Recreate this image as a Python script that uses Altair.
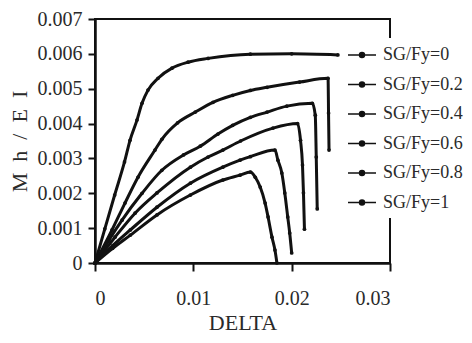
import altair as alt
import pandas as pd

series_names = ["SG/Fy=0", "SG/Fy=0.2", "SG/Fy=0.4", "SG/Fy=0.6", "SG/Fy=0.8", "SG/Fy=1"]

x_0 = [0, 0.001, 0.002, 0.003, 0.00356, 0.00427, 0.00478, 0.00539, 0.00641, 0.00783, 0.00946, 0.0115, 0.0158, 0.02, 0.0247]
y_0 = [0, 0.00098, 0.00195, 0.0029, 0.00352, 0.0041, 0.00458, 0.00496, 0.0053, 0.00559, 0.00576, 0.00587, 0.00599, 0.006, 0.00597]

x_02 = [0, 0.00173, 0.00305, 0.00437, 0.0061, 0.0068, 0.0084, 0.0102, 0.012, 0.014, 0.0158, 0.0175, 0.0208, 0.0237, 0.02375, 0.0238]
y_02 = [0, 0.00095, 0.00172, 0.00246, 0.00324, 0.00355, 0.00402, 0.00433, 0.00461, 0.00481, 0.00495, 0.00504, 0.00519, 0.0053, 0.0043, 0.00324]

x_04 = [0, 0.0014, 0.00275, 0.00478, 0.0068, 0.009, 0.0107, 0.0125, 0.014, 0.0158, 0.0175, 0.0195, 0.0221, 0.0224, 0.0225, 0.0226]
y_04 = [0, 0.00065, 0.00123, 0.002, 0.00266, 0.0031, 0.00335, 0.0037, 0.00395, 0.00418, 0.00433, 0.0045, 0.00458, 0.00424, 0.00304, 0.00155]

x_06 = [0, 0.00203, 0.00407, 0.0063, 0.0097, 0.0115, 0.013, 0.0148, 0.0181, 0.0206, 0.0209, 0.0211, 0.0212, 0.0213]
y_06 = [0, 0.00074, 0.00143, 0.00201, 0.00275, 0.00304, 0.00324, 0.0035, 0.00387, 0.004, 0.00352, 0.00281, 0.00201, 0.00097]

x_08 = [0, 0.0018, 0.0036, 0.0063, 0.0097, 0.013, 0.01475, 0.0158, 0.0183, 0.0186, 0.019, 0.0193, 0.0196, 0.0198, 0.02]
y_08 = [0, 0.0005, 0.00095, 0.0016, 0.00229, 0.00275, 0.00295, 0.00305, 0.00324, 0.00295, 0.00258, 0.00201, 0.00132, 0.00086, 0.00029]

x_1 = [0, 0.0018, 0.0036, 0.0063, 0.0097, 0.013, 0.01475, 0.0158, 0.0163, 0.0168, 0.0173, 0.0176, 0.018, 0.0183, 0.0185]
y_1 = [0, 0.00042, 0.0008, 0.00138, 0.00195, 0.00238, 0.00252, 0.00261, 0.00246, 0.00218, 0.00172, 0.00132, 0.00074, 0.00037, 0.0]

x_ticks = [0, 0.01, 0.02, 0.03]
y_ticks = [0, 0.001, 0.002, 0.003, 0.004, 0.005, 0.006, 0.007]

rows = []
for name, xs, ys in zip(series_names, [x_0, x_02, x_04, x_06, x_08, x_1],
                        [y_0, y_02, y_04, y_06, y_08, y_1]):
    for i, (a, b) in enumerate(zip(xs, ys)):
        rows.append({"series": name, "delta": a, "m": b, "order": i})
df = pd.DataFrame(rows)

FONT = "Liberation Serif"
INK = "#111111"
TXT = "#2a2a2a"

color = alt.Color(
    "series:N",
    scale=alt.Scale(domain=series_names, range=[INK] * 6),
    legend=alt.Legend(
        title=None,
        orient="none",
        legendX=250,
        legendY=19,
        padding=6,
        fillColor="white",
        symbolType="M-1.4,0H1.4M-0.25,0A0.25,0.25,0,1,0,0.25,0A0.25,0.25,0,1,0,-0.25,0Z",
        symbolSize=400,
        symbolStrokeWidth=1.5,
        symbolFillColor=INK,
        symbolStrokeColor=INK,
        labelFont=FONT,
        labelFontSize=18,
        labelColor=TXT,
        labelOffset=10,
        rowPadding=9.5,
        labelLimit=200,
    ),
)

x = alt.X(
    "delta:Q",
    scale=alt.Scale(domain=[0, 0.03], nice=False),
    axis=alt.Axis(values=x_ticks, format="~g", title="DELTA", grid=False,
                  tickSize=8, tickWidth=2, labelPadding=17, titlePadding=4),
)
y = alt.Y(
    "m:Q",
    scale=alt.Scale(domain=[0, 0.007], nice=False),
    axis=alt.Axis(values=y_ticks, format="~g",
                  title="M\u00a0\u00a0h\u00a0\u00a0/\u00a0\u00a0E\u00a0\u00a0I",
                  grid=False, tickSize=7, tickWidth=2, labelPadding=6, titlePadding=6),
)

base = alt.Chart(df)
lines = base.mark_line(strokeWidth=3, interpolate="monotone").encode(
    x=x, y=y, color=color, order="order:Q"
)
points = base.mark_point(filled=True, size=14, opacity=1).encode(
    x=x, y=y, color=color
)

chart = (
    alt.layer(lines, points)
    .properties(
        width=295,
        height=244,
        autosize=alt.AutoSizeParams(type="none"),
        padding={"left": 87, "top": 11, "right": 74, "bottom": 72},
    )
    .configure_view(stroke=INK, strokeWidth=2)
    .configure_axis(
        domainColor=INK, domainWidth=2.5, tickColor=INK,
        labelFont=FONT, labelFontSize=20, labelColor=TXT,
        titleFont=FONT, titleFontSize=22, titleColor=TXT, titleFontWeight="normal",
    )
)

chart.save("out.html", embed_options={"renderer": "svg", "actions": False})
